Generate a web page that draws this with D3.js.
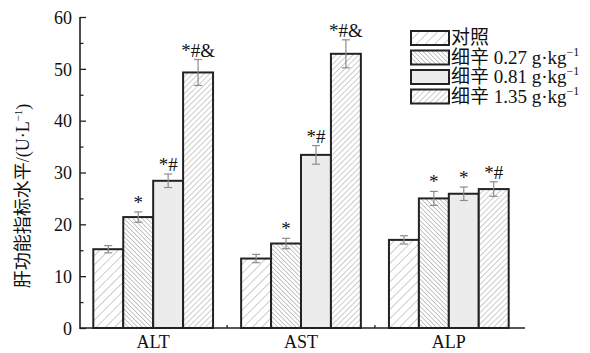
<!DOCTYPE html>
<html>
<head>
<meta charset="utf-8">
<script src="https://cdn.jsdelivr.net/npm/d3@7"></script>
<style>
  body { margin: 0; background: #fff; }
  text { font-family: "Liberation Serif", "Noto Sans CJK SC", serif; fill: #111; }
</style>
</head>
<body>
<svg id="chart" width="590" height="353"></svg>
<script>
const categories = ['ALT', 'AST', 'ALP'];
const groups = ['对照', '细辛 0.27', '细辛 0.81', '细辛 1.35'];
const legendLabels = ['对照', '细辛 0.27 g·kg', '细辛 0.81 g·kg', '细辛 1.35 g·kg'];
// values per category, one per group
const means = {
  ALT: [15.2, 21.4, 28.4, 49.3],
  AST: [13.4, 16.3, 33.4, 52.9],
  ALP: [17.0, 25.0, 25.9, 26.8]
};
const errors = {
  ALT: [0.7, 1.0, 1.3, 2.5],
  AST: [0.8, 1.0, 1.8, 2.7],
  ALP: [0.8, 1.35, 1.3, 1.4]
};
const marks = {
  ALT: ['', '*', '*#', '*#&'],
  AST: ['', '*', '*#', '*#&'],
  ALP: ['', '*', '*', '*#']
};
const yTicks = [0, 10, 20, 30, 40, 50, 60];
const yMinorTicks = [5, 15, 25, 35, 45, 55];

const svg = d3.select('#chart');
const axisX0 = 80, axisX1 = 525;
const y = d3.scaleLinear().domain([0, 60]).range([328, 17]);

const x0 = d3.scaleBand().domain(categories).range([80, 522])
  .paddingInner(0.19).paddingOuter(0.09);
const x1 = d3.scaleBand().domain(groups).range([0, x0.bandwidth()]);

// hatch patterns
const defs = svg.append('defs');
function hatch(id, spacing, dir, color) {
  const p = defs.append('pattern').attr('id', id)
    .attr('patternUnits', 'userSpaceOnUse')
    .attr('width', spacing).attr('height', spacing)
    .attr('patternTransform', `rotate(${dir})`);
  p.append('rect').attr('width', spacing).attr('height', spacing).attr('fill', '#fff');
  p.append('line').attr('x1', 0).attr('y1', 0).attr('x2', 0).attr('y2', spacing)
    .attr('stroke', color).attr('stroke-width', 1);
}
hatch('h0', 6.5, 45, '#9a9a9a');
hatch('h1', 3.2, -45, '#8a8a8a');
hatch('h3', 4, 45, '#9a9a9a');
const fills = ['url(#h0)', 'url(#h1)', '#ececec', 'url(#h3)'];

const rows = categories.flatMap(c => groups.map((g, i) => ({
  cat: c, grp: g, i, v: means[c][i], e: errors[c][i], m: marks[c][i]
})));

// bars
svg.append('g').selectAll('rect').data(rows).join('rect')
  .attr('x', d => x0(d.cat) + x1(d.grp))
  .attr('y', d => y(d.v))
  .attr('width', x1.bandwidth())
  .attr('height', d => y(0) - y(d.v))
  .attr('fill', d => fills[d.i])
  .attr('stroke', '#222')
  .attr('stroke-width', 2);

// error bars
const eb = svg.append('g').attr('stroke', '#8c8c8c').attr('stroke-width', 1.2);
rows.forEach(d => {
  const cx = x0(d.cat) + x1(d.grp) + x1.bandwidth() / 2;
  eb.append('line').attr('x1', cx).attr('x2', cx).attr('y1', y(d.v - d.e)).attr('y2', y(d.v + d.e));
  eb.append('line').attr('x1', cx - 4).attr('x2', cx + 4).attr('y1', y(d.v - d.e)).attr('y2', y(d.v - d.e));
  eb.append('line').attr('x1', cx - 4).attr('x2', cx + 4).attr('y1', y(d.v + d.e)).attr('y2', y(d.v + d.e));
});

// significance marks
svg.append('g').selectAll('text').data(rows.filter(d => d.m)).join('text')
  .attr('x', d => x0(d.cat) + x1(d.grp) + x1.bandwidth() / 2)
  .attr('y', d => y(d.v + d.e) - 3)
  .attr('text-anchor', 'middle')
  .attr('font-size', 19)
  .text(d => d.m);

// y axis
const yAxis = svg.append('g').attr('transform', `translate(${axisX0},0)`)
  .call(d3.axisLeft(y).tickValues(yTicks).tickSize(-6).tickPadding(8));
yAxis.select('.domain').remove();
yAxis.selectAll('line').attr('stroke', '#222').attr('stroke-width', 1.3);
yAxis.selectAll('text').attr('font-size', 18).attr('dy', '0.35em')
  .style('font-family', '"Liberation Serif", serif');
svg.append('g').attr('transform', `translate(${axisX0},0)`)
  .call(d3.axisLeft(y).tickValues(yMinorTicks).tickSize(-3.5).tickFormat(''))
  .call(g => g.select('.domain').remove())
  .selectAll('line').attr('stroke', '#222').attr('stroke-width', 1.3);

svg.append('line').attr('x1', axisX0).attr('x2', axisX0).attr('y1', y(60)).attr('y2', y(0) + 1)
  .attr('stroke', '#222').attr('stroke-width', 1.6);

// x axis
svg.append('line').attr('x1', axisX0).attr('x2', axisX1).attr('y1', y(0)).attr('y2', y(0))
  .attr('stroke', '#222').attr('stroke-width', 1.6);
const step = x0.step();
[1, 2].forEach(k => {
  const xb = x0(categories[k]) - (step - x0.bandwidth()) / 2;
  svg.append('line').attr('x1', xb).attr('x2', xb).attr('y1', y(0)).attr('y2', y(0) - 3)
    .attr('stroke', '#222').attr('stroke-width', 1.3);
});
svg.append('g').selectAll('text').data(categories).join('text')
  .attr('x', d => x0(d) + x0.bandwidth() / 2)
  .attr('y', 348)
  .attr('text-anchor', 'middle')
  .attr('font-size', 18)
  .text(d => d);

// y label
const yl = svg.append('text')
  .attr('transform', 'translate(29,196) rotate(-90)')
  .attr('text-anchor', 'middle')
  .attr('font-size', 18);
yl.append('tspan').text('肝功能指标水平/(U·L');
yl.append('tspan').attr('font-size', 11).attr('dy', -7).text('−1');
yl.append('tspan').attr('dy', 7).text(')');

// legend
const lg = svg.append('g');
legendLabels.forEach((t, i) => {
  const ly = 38 + i * 19.5;
  lg.append('rect').attr('x', 411).attr('y', ly - 7).attr('width', 38).attr('height', 14)
    .attr('fill', fills[i]).attr('stroke', '#222').attr('stroke-width', 2);
  const tx = lg.append('text').attr('x', 451).attr('y', ly + 6).attr('font-size', 19);
  tx.append('tspan').text(t);
  if (i > 0) tx.append('tspan').attr('font-size', 12).attr('dy', -8).text('−1');
});
</script>
</body>
</html>
